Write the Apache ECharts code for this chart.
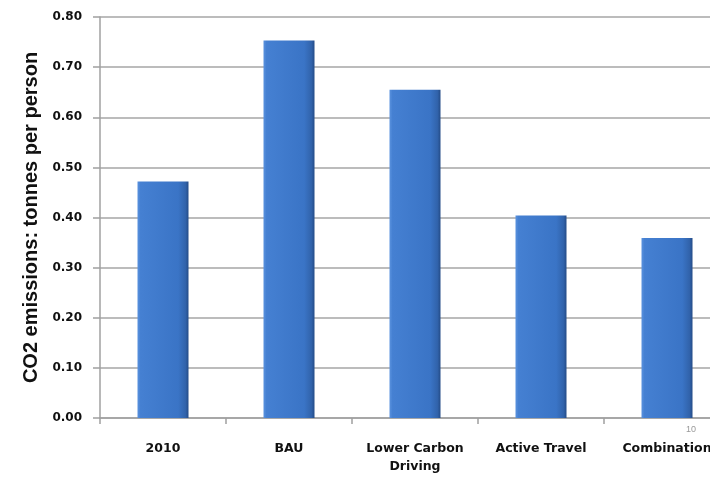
<!DOCTYPE html>
<html>
<head>
<meta charset="utf-8">
<script src="https://cdn.jsdelivr.net/npm/echarts@6/dist/echarts.min.js"></script>
<style>
  html, body { margin: 0; padding: 0; background: #fff; overflow: hidden; }
  #chart { width: 730px; height: 480px; }
</style>
</head>
<body>
<div id="chart"></div>
<script>
// Scenario categories and per-person CO2 emissions (tonnes)
const categories = ['2010', 'BAU', 'Lower Carbon\nDriving', 'Active Travel', 'Combination'];
const emissions = [0.472, 0.753, 0.655, 0.404, 0.359];
const yTicks = { min: 0, max: 0.8, interval: 0.1 };
const yAxisTitle = 'CO2 emissions: tonnes per person';

const chart = echarts.init(document.getElementById('chart'), null, { renderer: 'canvas' });

const barFill = new echarts.graphic.LinearGradient(0, 0, 1, 0, [
  { offset: 0, color: '#5a92de' },
  { offset: 0.06, color: '#4580d2' },
  { offset: 0.8, color: '#3a74c6' },
  { offset: 0.94, color: '#3163ab' },
  { offset: 1, color: '#244c88' }
]);

chart.setOption({
  animation: false,
  backgroundColor: '#ffffff',
  grid: { left: 100, right: 0, top: 17, bottom: 62, containLabel: false },
  xAxis: {
    type: 'category',
    data: categories,
    axisLine: { lineStyle: { color: '#a0a0a0', width: 1.5 } },
    axisTick: { show: true, length: 6, alignWithLabel: false, lineStyle: { color: '#a0a0a0', width: 1.5 } },
    axisLabel: {
      interval: 0,
      margin: 22,
      color: '#111',
      fontFamily: 'DejaVu Sans, sans-serif',
      fontWeight: 'bold',
      fontSize: 12.5,
      lineHeight: 18
    }
  },
  yAxis: {
    type: 'value',
    min: yTicks.min,
    max: yTicks.max,
    interval: yTicks.interval,
    name: yAxisTitle,
    nameLocation: 'middle',
    nameGap: 57,
    nameRotate: 90,
    nameTextStyle: {
      color: '#111',
      fontFamily: 'Liberation Sans, Arial, sans-serif',
      fontWeight: 'bold',
      fontSize: 20
    },
    axisLine: { show: true, lineStyle: { color: '#a0a0a0', width: 1.5 } },
    axisTick: { show: true, length: 7, lineStyle: { color: '#a0a0a0', width: 1.5 } },
    axisLabel: {
      margin: 18,
      color: '#111',
      fontFamily: 'DejaVu Sans, sans-serif',
      fontWeight: 'bold',
      fontSize: 12,
      formatter: v => v.toFixed(2)
    },
    splitLine: { show: true, lineStyle: { color: '#a6a6a6', width: 1.5 } }
  },
  series: [{
    type: 'bar',
    data: emissions,
    barWidth: 51,
    itemStyle: { color: barFill },
    emphasis: { disabled: true }
  }],
  graphic: [{
    type: 'text',
    left: 686,
    top: 425,
    style: { text: '10', fill: '#999', fontSize: 9, fontFamily: 'Liberation Sans, Arial, sans-serif' }
  }]
});
</script>
</body>
</html>
